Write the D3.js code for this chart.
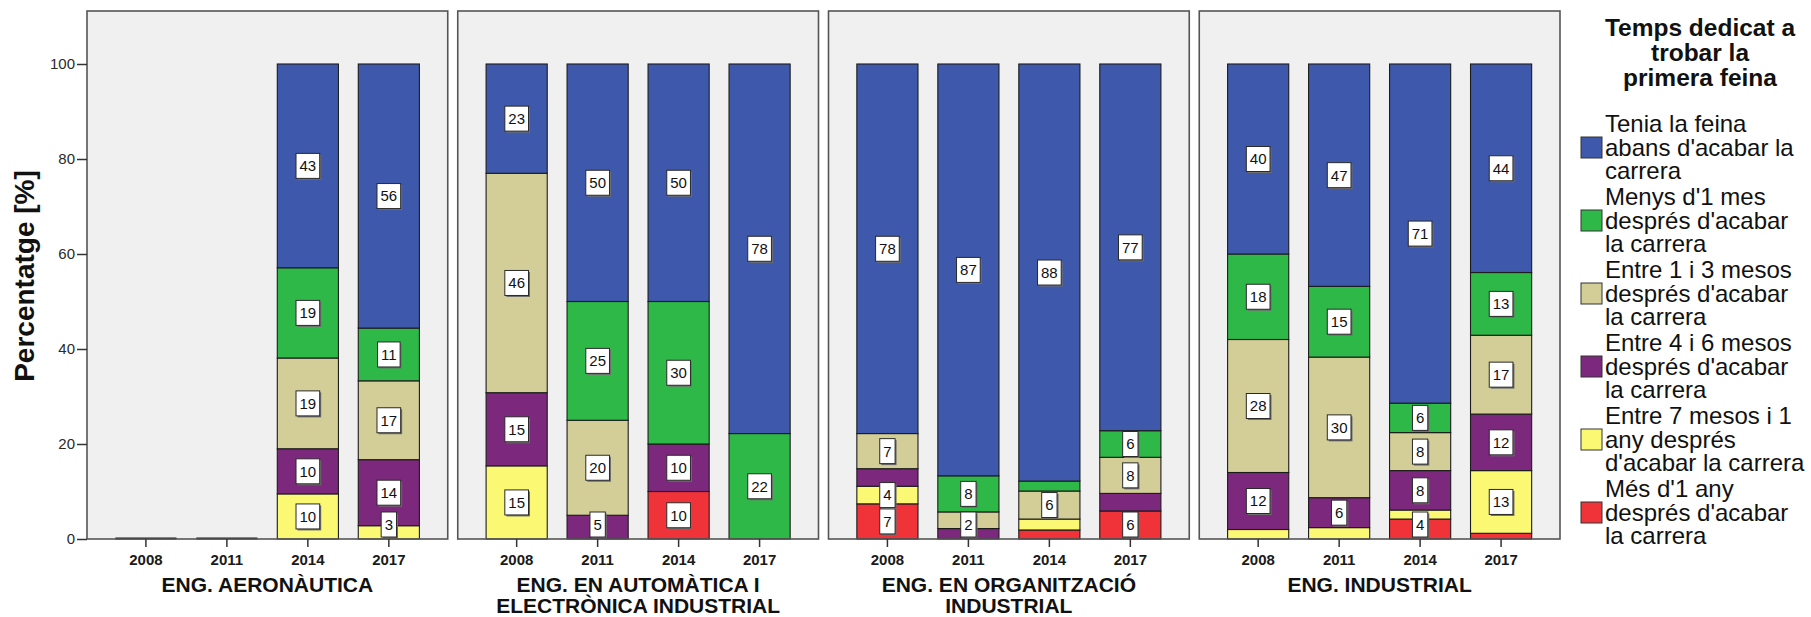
<!DOCTYPE html>
<html>
<head>
<meta charset="utf-8">
<script src="https://cdnjs.cloudflare.com/ajax/libs/d3/7.8.5/d3.min.js"></script>
<style>
  body { margin: 0; background: #ffffff; }
  svg { display: block; font-family: "Liberation Sans", Arial, sans-serif; }
</style>
</head>
<body>
<svg id="chart" width="1811" height="617"></svg>
<script>
// ---- data -------------------------------------------------------------
const years = ["2008", "2011", "2014", "2017"];
const programmes = [
  "ENG. AERONÀUTICA",
  "ENG. EN AUTOMÀTICA I ELECTRÒNICA INDUSTRIAL",
  "ENG. EN ORGANITZACIÓ INDUSTRIAL",
  "ENG. INDUSTRIAL"
];
const programmeLines = [
  ["ENG. AERONÀUTICA"],
  ["ENG. EN AUTOMÀTICA I", "ELECTRÒNICA INDUSTRIAL"],
  ["ENG. EN ORGANITZACIÓ", "INDUSTRIAL"],
  ["ENG. INDUSTRIAL"]
];
const yTicks = [0, 20, 40, 60, 80, 100];

// percentages, programme by programme, years 2008, 2011, 2014, 2017
const tenia      = [0, 0, 42.9, 55.6,  23.0, 50.0, 50.0, 77.8,  77.8, 86.7, 87.8, 77.2,  40.0, 46.8, 71.4, 43.9];
const menysUnMes = [0, 0, 19.0, 11.1,   0.0, 25.0, 30.0, 22.2,   0.0,  7.6,  2.1,  5.6,  18.0, 14.9,  6.2, 13.2];
const entre1i3   = [0, 0, 19.1, 16.6,  46.2, 20.0,  0.0,  0.0,   7.4,  3.5,  5.9,  7.6,  28.0, 29.6,  8.0, 16.6];
const entre4i6   = [0, 0,  9.5, 13.9,  15.4,  5.0, 10.0,  0.0,   3.7,  2.2,  0.0,  3.7,  12.0,  6.3,  8.3, 11.9];
const entre7i12  = [0, 0,  9.5,  2.8,  15.4,  0.0,  0.0,  0.0,   3.7,  0.0,  2.3,  0.0,   2.0,  2.4,  1.9, 13.2];
const mesUnAny   = [0, 0,  0.0,  0.0,   0.0,  0.0, 10.0,  0.0,   7.4,  0.0,  1.9,  5.9,   0.0,  0.0,  4.2,  1.2];

// categories in stacking order (bottom to top)
const seriesKeys = ["mesUnAny", "entre7i12", "entre4i6", "entre1i3", "menysUnMes", "tenia"];
const seriesValues = { tenia, menysUnMes, entre1i3, entre4i6, entre7i12, mesUnAny };
const seriesNames = {
  tenia:      ["Tenia la feina", "abans d'acabar la", "carrera"],
  menysUnMes: ["Menys d'1 mes", "després d'acabar", "la carrera"],
  entre1i3:   ["Entre 1 i 3 mesos", "després d'acabar", "la carrera"],
  entre4i6:   ["Entre 4 i 6 mesos", "després d'acabar", "la carrera"],
  entre7i12:  ["Entre 7 mesos i 1", "any després", "d'acabar la carrera"],
  mesUnAny:   ["Més d'1 any", "després d'acabar", "la carrera"]
};
const legendTitle = ["Temps dedicat a", "trobar la", "primera feina"];

// segments drawn without a value label
const unlabelled = [
  [2, "2008", "entre4i6"], [2, "2011", "entre1i3"], [2, "2014", "menysUnMes"],
  [2, "2014", "entre7i12"], [2, "2014", "mesUnAny"], [2, "2017", "entre4i6"],
  [3, "2008", "entre7i12"], [3, "2011", "entre7i12"], [3, "2014", "entre7i12"],
  [3, "2017", "mesUnAny"]
];

// ---- styles -------------------------------------------------------------
const colors = {
  tenia: "#3e58ac", menysUnMes: "#2eb848", entre1i3: "#d3ce97",
  entre4i6: "#7c287d", entre7i12: "#fbf873", mesUnAny: "#ef3338"
};

// ---- build rows and stack ----------------------------------------------
const rows = [];
programmes.forEach((p, pi) => {
  years.forEach((yr, yi) => {
    const row = { prog: pi, year: yr };
    seriesKeys.forEach(k => { row[k] = seriesValues[k][pi * years.length + yi]; });
    rows.push(row);
  });
});
const stacked = d3.stack().keys(seriesKeys)(rows);

const hidden = new Set(unlabelled.map(d => d.join("|")));

// ---- scales --------------------------------------------------------------
const svg = d3.select("#chart");
const y = d3.scaleLinear().domain([0, 100]).range([539, 64]);
const panelX = d3.scaleBand().domain(d3.range(programmes.length))
  .range([87, 1560]).paddingInner(0.027).paddingOuter(0);
const barX = d3.scaleBand().domain(years)
  .range([0, panelX.bandwidth()]).paddingInner(0.245).paddingOuter(0.35);
const panelTop = 11;

// ---- panels ----------------------------------------------------------------
const panels = svg.selectAll("g.panel").data(programmes).join("g")
  .attr("class", "panel")
  .attr("transform", (d, i) => `translate(${panelX(i)},0)`);

panels.append("rect")
  .attr("x", 0).attr("y", panelTop)
  .attr("width", panelX.bandwidth()).attr("height", y(0) - panelTop)
  .attr("fill", "#f0f0f0");

// bar segments
panels.each(function (prog, pi) {
  const g = d3.select(this);
  stacked.forEach(layer => {
    const key = layer.key;
    layer.filter(d => d.data.prog === pi && d[1] - d[0] > 0).forEach(d => {
      g.append("rect")
        .attr("x", barX(d.data.year))
        .attr("y", y(d[1]))
        .attr("width", barX.bandwidth())
        .attr("height", y(d[0]) - y(d[1]))
        .attr("fill", colors[key])
        .attr("stroke", "#1c1c1c")
        .attr("stroke-width", 1.1);
    });
  });

  // empty years are marked with a line on the baseline
  rows.filter(r => r.prog === pi && d3.sum(seriesKeys, k => r[k]) === 0).forEach(r => {
    g.append("line")
      .attr("x1", barX(r.year)).attr("x2", barX(r.year) + barX.bandwidth())
      .attr("y1", y(0) - 0.5).attr("y2", y(0) - 0.5)
      .attr("stroke", "#1c1c1c").attr("stroke-width", 2);
  });

  // value labels
  stacked.forEach(layer => {
    const key = layer.key;
    layer.filter(d => d.data.prog === pi && d[1] - d[0] > 0).forEach(d => {
      if (hidden.has([pi, d.data.year, key].join("|"))) return;
      const value = d[1] - d[0];
      const boxH = 25;
      let cy = y((d[0] + d[1]) / 2);
      cy = Math.min(cy, y(0) - 2 - boxH / 2);
      const cx = barX(d.data.year) + barX.bandwidth() / 2;
      const lg = g.append("g");
      const shadow = lg.append("rect").attr("fill", "#6e6e6e");
      const box = lg.append("rect").attr("fill", "#ffffff")
        .attr("stroke", "#2a2a2a").attr("stroke-width", 1);
      const t = lg.append("text")
        .attr("x", cx).attr("y", cy).attr("dy", "0.36em")
        .attr("text-anchor", "middle")
        .attr("font-size", 15).attr("fill", "#111")
        .text(d3.format(".0f")(Math.round(value)));
      const w = t.node().getComputedTextLength() + 7;
      box.attr("x", cx - w / 2).attr("y", cy - boxH / 2).attr("width", w).attr("height", boxH);
      shadow.attr("x", cx - w / 2 + 1.5).attr("y", cy - boxH / 2 + 1.5).attr("width", w).attr("height", boxH);
    });
  });
});

// panel frames on top of the bars
panels.append("rect")
  .attr("x", 0).attr("y", panelTop)
  .attr("width", panelX.bandwidth()).attr("height", y(0) - panelTop)
  .attr("fill", "none").attr("stroke", "#555555").attr("stroke-width", 1.6);

// year axis for each panel
panels.append("g")
  .attr("transform", `translate(0,${y(0)})`)
  .call(d3.axisBottom(barX).tickSize(8).tickPadding(7))
  .call(a => a.select(".domain").remove())
  .call(a => a.selectAll("line").attr("stroke", "#333").attr("stroke-width", 1.5))
  .call(a => a.selectAll("text")
    .attr("font-size", 15).attr("font-weight", "bold")
    .attr("font-family", "Liberation Sans, Arial, sans-serif").attr("fill", "#1a1a1a"));

// programme titles
panels.each(function (prog, pi) {
  const t = d3.select(this).append("text")
    .attr("text-anchor", "middle")
    .attr("font-size", 21).attr("font-weight", "bold").attr("fill", "#111");
  programmeLines[pi].forEach((line, li) => {
    t.append("tspan").attr("x", panelX.bandwidth() / 2).attr("y", 592 + li * 20.5).text(line);
  });
});

// ---- y axis ----------------------------------------------------------------
svg.append("g")
  .attr("transform", `translate(${panelX(0)},0)`)
  .call(d3.axisLeft(y).tickValues(yTicks).tickFormat(d3.format("d")).tickSize(10).tickPadding(2))
  .call(a => a.select(".domain").remove())
  .call(a => a.selectAll("line").attr("stroke", "#333").attr("stroke-width", 1.5))
  .call(a => a.selectAll("text")
    .attr("font-size", 15).attr("fill", "#2a2a2a")
    .attr("font-family", "Liberation Sans, Arial, sans-serif"));

svg.append("text")
  .attr("transform", `translate(33.5,${(172 + 380) / 2}) rotate(-90)`)
  .attr("text-anchor", "middle")
  .attr("font-size", 28).attr("font-weight", "bold").attr("fill", "#111")
  .text("Percentatge [%]");

// ---- legend ----------------------------------------------------------------
const legend = svg.append("g");
const lt = legend.append("text").attr("text-anchor", "middle")
  .attr("font-size", 24.5).attr("font-weight", "bold").attr("fill", "#111");
legendTitle.forEach((line, i) => {
  lt.append("tspan").attr("x", 1700).attr("y", 36 + i * 25).text(line);
});

const legendOrder = seriesKeys.slice().reverse();
const itemPitch = 73, lineStep = 23.5, firstLine = 124;
legendOrder.forEach((key, i) => {
  const top = firstLine + i * itemPitch;
  const mid = top + lineStep;
  legend.append("rect")
    .attr("x", 1581).attr("y", mid - 10.5)
    .attr("width", 21).attr("height", 21)
    .attr("fill", colors[key]).attr("stroke", "#333").attr("stroke-width", 1);
  const tx = legend.append("text").attr("font-size", 24).attr("fill", "#111");
  seriesNames[key].forEach((line, li) => {
    tx.append("tspan").attr("x", 1605).attr("y", top + li * lineStep).attr("dy", "0.35em").text(line);
  });
});
</script>
</body>
</html>
